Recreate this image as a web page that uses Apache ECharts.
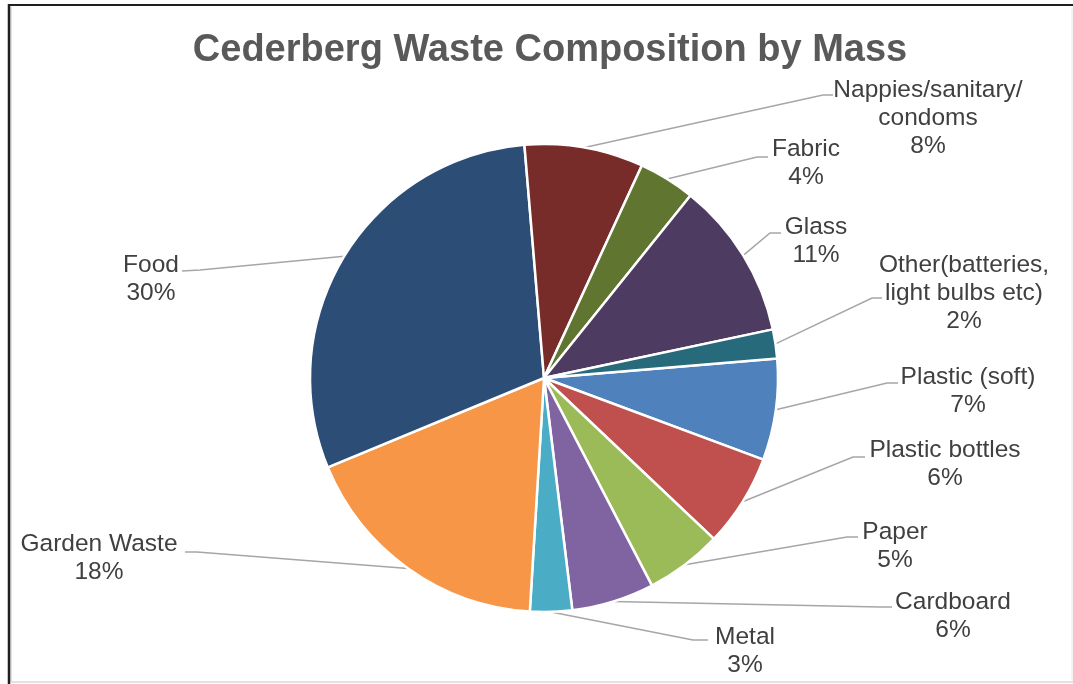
<!DOCTYPE html>
<html>
<head>
<meta charset="utf-8">
<title>Cederberg Waste Composition by Mass</title>
<script src="https://cdn.jsdelivr.net/npm/echarts@6/dist/echarts.min.js"></script>
<style>
  html, body { margin: 0; padding: 0; background: #ffffff; }
  #chart { width: 1073px; height: 684px; }
</style>
</head>
<body>
<div id="chart"></div>
<script>
// Waste streams, in the order the slices are laid out clockwise
const categories = [
  'Plastic (soft)', 'Plastic bottles', 'Paper', 'Cardboard', 'Metal',
  'Garden Waste', 'Food', 'Nappies/sanitary/condoms', 'Fabric', 'Glass',
  'Other(batteries, light bulbs etc)'
];
// Share of total mass (%)
const massShare = [7.0, 6.4, 5.3, 5.7, 2.9, 17.8, 29.9, 8.2, 3.9, 10.9, 2.0];
// Label text as wrapped on the chart
const labelText = [
  'Plastic (soft)', 'Plastic bottles', 'Paper', 'Cardboard', 'Metal',
  'Garden Waste', 'Food', 'Nappies/sanitary/\ncondoms', 'Fabric', 'Glass',
  'Other(batteries,\nlight bulbs etc)'
];
const sliceColors = [
  '#4F81BD', '#C0504D', '#9BBB59', '#8064A2', '#4BACC6',
  '#F79646', '#2C4D75', '#772C2A', '#5F7530', '#4D3B62', '#276A7C'
];

// Where each data label sits, and the bend/end of its leader line
const labelSpots = [
  { x: 968, y: 391, bend: [887, 383], end: [898, 383] },
  { x: 945, y: 464, bend: [853, 457], end: [865, 457] },
  { x: 895, y: 546, bend: [847, 537], end: [858, 537] },
  { x: 953, y: 616, bend: [880, 607], end: [892, 607] },
  { x: 745, y: 651, bend: [693, 640], end: [708, 640] },
  { x: 99,  y: 558, bend: [197, 552], end: [185, 552] },
  { x: 151, y: 279, bend: [200, 270], end: [182, 271] },
  { x: 928, y: 118, bend: [823, 95],  end: [833, 95] },
  { x: 806, y: 163, bend: [757, 157], end: [768, 157] },
  { x: 816, y: 241, bend: [770, 233], end: [781, 233] },
  { x: 964, y: 293, bend: [872, 298], end: [882, 298] }
];

const PIE_CENTER = [544, 378];
const PIE_RADIUS = 234;
const START_ANGLE = 4.8;

// Point on the pie rim at the middle of slice i (fallback for leader start)
function rimPoint(i) {
  const total = massShare.reduce((a, b) => a + b, 0);
  let before = 0;
  for (let k = 0; k < i; k++) before += massShare[k];
  const mid = START_ANGLE - (before + massShare[i] / 2) / total * 360;
  const rad = mid * Math.PI / 180;
  return [PIE_CENTER[0] + PIE_RADIUS * Math.cos(rad), PIE_CENTER[1] - PIE_RADIUS * Math.sin(rad)];
}

const chart = echarts.init(document.getElementById('chart'), null, { renderer: 'canvas' });

const FONT = "'Liberation Sans', Arial, sans-serif";

chart.setOption({
  animation: false,
  backgroundColor: '#ffffff',
  title: {
    text: 'Cederberg Waste Composition by Mass',
    left: 545,
    textAlign: 'center',
    top: 27,
    textStyle: { fontFamily: FONT, fontSize: 38, fontWeight: 'bold', color: '#595959' }
  },
  graphic: [
    { type: 'line', shape: { x1: 11, y1: 7, x2: 11, y2: 682 }, style: { stroke: '#d9d9d9', lineWidth: 1.5 }, silent: true },
    { type: 'line', shape: { x1: 11, y1: 682, x2: 1073, y2: 682 }, style: { stroke: '#d9d9d9', lineWidth: 1.5 }, silent: true },
    { type: 'line', shape: { x1: 1072, y1: 7, x2: 1072, y2: 682 }, style: { stroke: '#e8e8e8', lineWidth: 1 }, silent: true },
    { type: 'line', shape: { x1: 8, y1: 5, x2: 1073, y2: 5 }, style: { stroke: '#1f1f1f', lineWidth: 2 }, silent: true },
    { type: 'line', shape: { x1: 9, y1: 4, x2: 9, y2: 684 }, style: { stroke: '#1f1f1f', lineWidth: 2.5 }, silent: true }
  ],
  series: [{
    type: 'pie',
    center: PIE_CENTER,
    radius: PIE_RADIUS,
    startAngle: START_ANGLE,
    clockwise: true,
    avoidLabelOverlap: false,
    percentPrecision: 0,
    itemStyle: { borderColor: '#ffffff', borderWidth: 2.5 },
    emphasis: { disabled: true },
    label: {
      show: true,
      position: 'outside',
      fontFamily: FONT,
      fontSize: 24.5,
      lineHeight: 28,
      color: '#404040',
      align: 'center',
      formatter: p => labelText[p.dataIndex] + '\n' + p.percent + '%'
    },
    labelLine: {
      show: true,
      smooth: false,
      lineStyle: { color: '#a6a6a6', width: 1.5 }
    },
    labelLayout: function (params) {
      const i = params.dataIndex;
      const s = labelSpots[i];
      const start = (params.labelLinePoints && params.labelLinePoints[0])
        ? [params.labelLinePoints[0][0], params.labelLinePoints[0][1]]
        : rimPoint(i);
      return {
        x: s.x,
        y: s.y,
        align: 'center',
        verticalAlign: 'middle',
        labelLinePoints: [start, s.bend.slice(), s.end.slice()]
      };
    },
    data: categories.map((name, i) => ({
      name: name,
      value: massShare[i],
      itemStyle: { color: sliceColors[i] }
    }))
  }]
});
</script>
</body>
</html>
